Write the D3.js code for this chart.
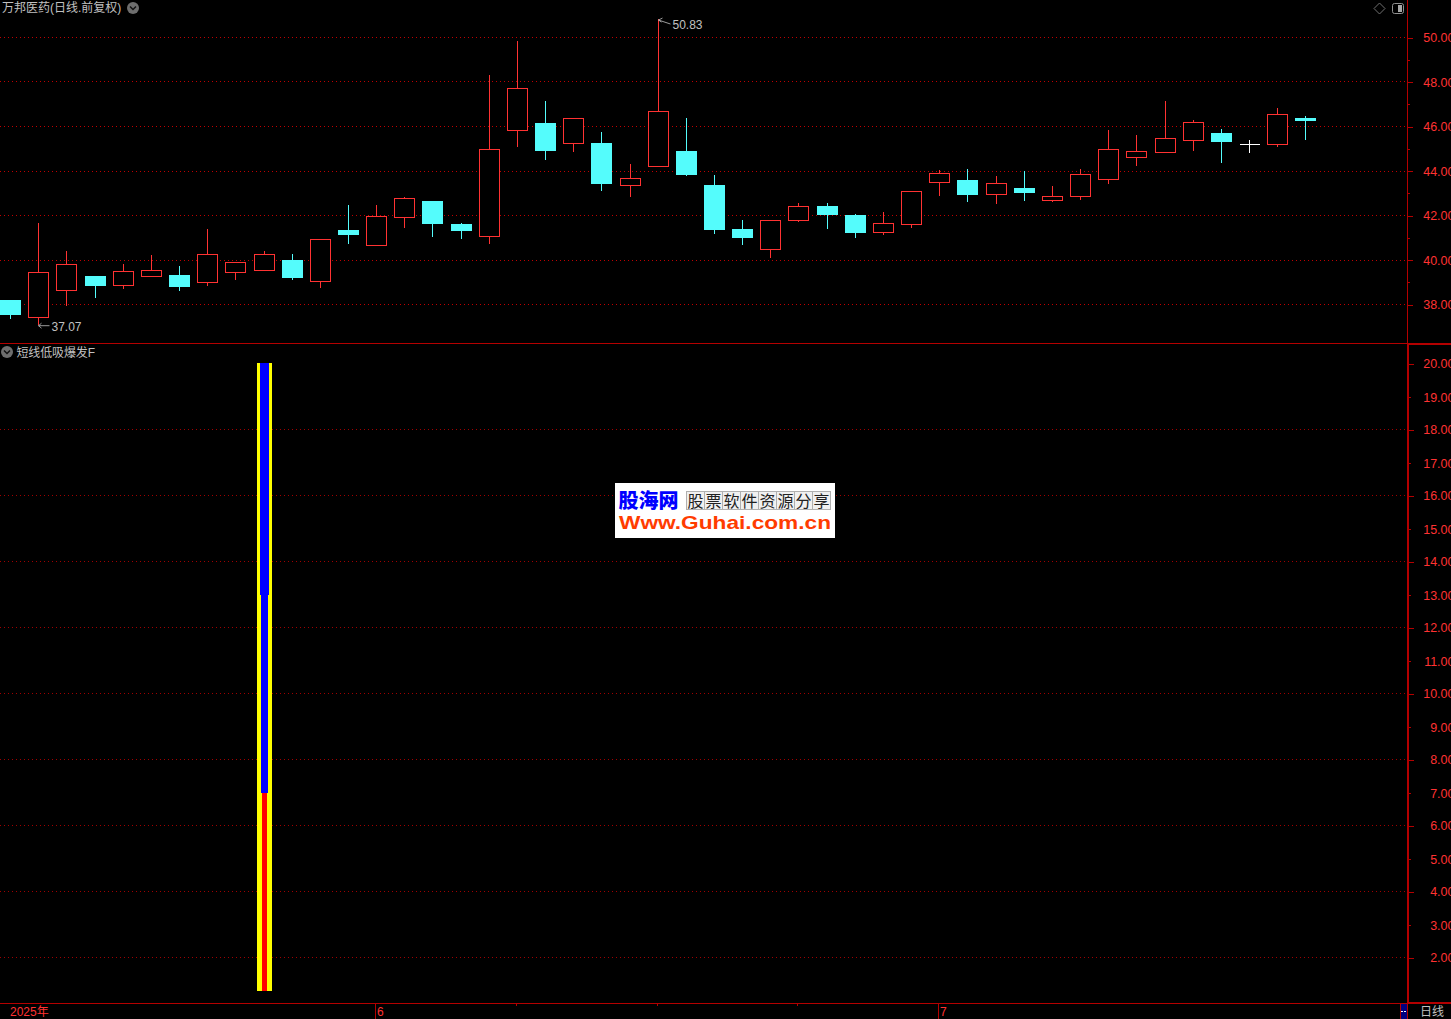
<!DOCTYPE html>
<html><head><meta charset="utf-8">
<style>html,body{margin:0;padding:0;background:#000;overflow:hidden}svg{display:block}text{font-family:"Liberation Sans","Noto Sans CJK SC",sans-serif}</style>
<script src="https://cdn.jsdelivr.net/npm/d3@7/dist/d3.min.js"></script>
</head><body><svg id="c" width="1451" height="1019"></svg>
<script>
const dates=["05-14","05-15","05-16","05-19","05-20","05-21","05-22","05-23","05-26","05-27","05-28","05-29","05-30",
"06-03","06-04","06-05","06-06","06-09","06-10","06-11","06-12","06-13","06-16","06-17","06-18","06-19","06-20","06-23","06-24","06-25","06-26","06-27","06-30",
"07-01","07-02","07-03","07-04","07-07","07-08","07-09","07-10","07-11","07-14","07-15","07-16","07-17","07-18"];
const opens=[38.19,37.41,38.62,39.27,38.85,39.25,39.32,38.98,39.43,39.52,39.99,39.03,41.34,
40.64,41.90,42.64,41.61,41.05,45.83,46.15,45.23,45.25,43.34,44.19,44.89,43.36,41.39,40.46,41.77,42.42,42.01,41.23,41.59,
43.48,43.59,42.935,43.23,42.67,42.85,43.61,44.60,44.82,45.38,45.70,45.18,45.18,46.37];
const closes=[37.49,39.43,39.79,38.83,39.475,39.52,38.78,40.24,39.88,40.24,39.18,40.91,41.12,
41.95,42.75,41.61,41.30,44.96,47.70,44.89,46.35,43.41,43.65,46.67,43.81,41.34,40.98,41.77,42.40,42.01,41.21,41.63,43.07,
43.88,42.91,43.43,43.00,42.85,43.83,44.96,44.87,45.45,46.17,45.29,45.18,46.53,46.24];
const highs=[38.19,41.65,40.40,39.27,39.81,40.22,39.72,41.385,39.88,40.40,40.26,40.91,42.46,
42.46,42.82,42.64,41.65,48.30,49.83,47.14,46.35,45.74,44.31,50.83,46.37,43.81,41.79,41.82,42.55,42.55,42.06,42.15,43.07,
44.04,44.08,43.77,43.99,43.32,44.08,45.83,45.61,47.14,46.28,45.87,45.38,46.82,46.46];
const lows=[37.34,37.07,37.94,38.30,38.70,39.25,38.60,38.84,39.11,39.52,39.09,38.73,40.71,
40.64,41.43,41.03,40.93,40.71,45.07,44.49,44.85,43.09,42.82,44.19,43.77,41.16,40.67,40.08,41.70,41.39,40.98,41.12,41.43,
42.87,42.60,42.51,42.64,42.60,42.69,43.41,44.22,44.82,44.89,44.35,44.80,45.07,45.38];
const priceMajor=[50,48,46,44,42,40,38];
const priceMinor=[49,47,45,43,41,39];
const indLabels=[20,19,18,17,16,15,14,13,12,11,10,9,8,7,6,5,4,3,2];
const indGrid=[18,16,14,12,10,8,6,4,2];
const signalDate="05-27";
const signalOuter=[1,20];
const signalMid=[7,20];
const signalTop=[13,20];
const signalBase=[1,7];
const monthTicks=[{d:"06-03",t:"6"},{d:"07-01",t:"7"}];
const minorDateTicks=["06-10","06-17","06-24"];

const RED="#ff3232",CY="#54fcfc",DK="#b40000",GRID="#c00000",GR="#c0c0c0";
const svg=d3.select("#c");
const xPos=d3.scaleLinear().domain([0,46]).range([10.62,1305.8]);
const xi=i=>Math.floor(xPos(i))+0.5;
const y=d3.scaleLinear().domain([38,50]).range([304.5,37.5]);
const y2=d3.scaleLinear().domain([2,20]).range([957.5,363.5]);
const yBar=d3.scaleLinear().domain([1,20]).range([991,363.3]);
const snap=v=>Math.round(v-0.5)+0.5;

const crisp=svg.append("g").attr("shape-rendering","crispEdges");
crisp.append("g").selectAll("line").data(priceMajor).join("line").attr("x1",0).attr("x2",1407)
 .attr("y1",d=>snap(y(d))).attr("y2",d=>snap(y(d))).attr("stroke",GRID).attr("stroke-dasharray","1 3");
crisp.append("g").selectAll("line").data(indGrid).join("line").attr("x1",0).attr("x2",1407)
 .attr("y1",d=>snap(y2(d))).attr("y2",d=>snap(y2(d))).attr("stroke","#a00000").attr("stroke-dasharray","1 3");

const idx=d3.range(dates.length);
const g=crisp.append("g");
idx.forEach(i=>{
 const o=opens[i],c=closes[i],h=highs[i],l=lows[i],x=xi(i);
 const up=c>o,flat=c===o;
 const col=flat?"#fff":up?RED:CY;
 const t=snap(y(Math.max(o,c))),b=snap(y(Math.min(o,c)));
 g.append("line").attr("x1",x).attr("x2",x).attr("y1",y(h)).attr("y2",y(l)).attr("stroke",col);
 if(flat){g.append("line").attr("x1",x-10).attr("x2",x+10).attr("y1",t).attr("y2",t).attr("stroke",col);}
 else if(up){g.append("rect").attr("x",x-10).attr("width",20).attr("y",t).attr("height",b-t).attr("fill","#000").attr("stroke",col);}
 else{g.append("rect").attr("x",x-10.5).attr("width",21).attr("y",t-.5).attr("height",b-t).attr("fill",col);}
});

const sx=xi(dates.indexOf(signalDate));
const bar=crisp.append("g");
const seg=(r,hl,hr,col)=>{const t=Math.round(yBar(r[1])),b=Math.round(yBar(r[0]));
 bar.append("rect").attr("x",sx+hl).attr("width",hr-hl).attr("y",t).attr("height",b-t).attr("fill",col);};
seg(signalOuter,-7.5,7.5,"#ffff00");
seg(signalMid,-3.5,3.5,"#0000ff");
seg(signalTop,-4.5,4.5,"#0000ff");
seg(signalBase,-2.5,2.5,"#ff0000");

crisp.append("line").attr("x1",0).attr("x2",1451).attr("y1",343.5).attr("y2",343.5).attr("stroke",DK);
crisp.append("line").attr("x1",1407.5).attr("x2",1407.5).attr("y1",0).attr("y2",343).attr("stroke",DK);
crisp.append("rect").attr("x",1407).attr("y",343).attr("width",2).attr("height",660).attr("fill",DK);
crisp.append("rect").attr("x",1407).attr("y",343).attr("width",44).attr("height",2).attr("fill",DK);
crisp.append("line").attr("x1",0).attr("x2",1407).attr("y1",1003.5).attr("y2",1003.5).attr("stroke",DK);
crisp.append("rect").attr("x",1407).attr("y",1002).attr("width",44).attr("height",2).attr("fill",DK);
crisp.append("rect").attr("x",1400).attr("y",1004).attr("width",8).attr("height",15).attr("fill","#000080");
crisp.append("line").attr("x1",1400.5).attr("x2",1400.5).attr("y1",1004).attr("y2",1019).attr("stroke",DK);
crisp.append("line").attr("x1",1407.5).attr("x2",1407.5).attr("y1",1004).attr("y2",1019).attr("stroke",DK);
crisp.append("line").attr("x1",1401).attr("x2",1407).attr("y1",1011.5).attr("y2",1011.5).attr("stroke","#fff").attr("stroke-dasharray","2 1");

function styleLabels(ga){
 ga.selectAll("text").attr("fill",RED).attr("font-size",12.5).attr("text-anchor","end").attr("x",46.5)
   .style("font-family","'Liberation Sans',sans-serif");
}
const ga=svg.append("g").attr("transform","translate(1408,0)").call(d3.axisRight(y).tickValues(priceMajor).tickSize(5).tickFormat(d3.format(".2f")));
ga.select(".domain").remove();
ga.selectAll(".tick line").attr("stroke",DK).attr("shape-rendering","crispEdges");
styleLabels(ga);
const gb=svg.append("g").attr("transform","translate(1408,0)").call(d3.axisRight(y).tickValues(priceMinor).tickSize(2).tickFormat(""));
gb.select(".domain").remove();
gb.selectAll(".tick line").attr("stroke",DK).attr("shape-rendering","crispEdges");
const ga2=svg.append("g").attr("transform","translate(1408,0)").call(d3.axisRight(y2).tickValues(indLabels).tickSize(5).tickFormat(d3.format(".2f")));
ga2.select(".domain").remove();
ga2.selectAll(".tick line").attr("stroke",DK).attr("shape-rendering","crispEdges").attr("x2",d=>d%2?3:6);
styleLabels(ga2);
ga2.selectAll("text").attr("dy",d=>d%2?"1.32em":"0.32em").attr("dy",d=>d%2?"0.4em":"0.32em");

monthTicks.forEach(m=>{
 const x=xi(dates.indexOf(m.d));
 crisp.append("line").attr("x1",x-1).attr("x2",x-1).attr("y1",1003).attr("y2",1019).attr("stroke",DK);
 svg.append("text").attr("x",x+.5).attr("y",1016).attr("fill",RED).attr("font-size",12).text(m.t);
});
minorDateTicks.forEach(d=>{
 const x=xi(dates.indexOf(d));
 crisp.append("line").attr("x1",x-1).attr("x2",x-1).attr("y1",1003).attr("y2",1006).attr("stroke",DK);
});
svg.append("text").attr("x",10).attr("y",1016).attr("fill",RED).attr("font-size",12).text("2025年");
svg.append("text").attr("x",1420).attr("y",1016).attr("fill",GR).attr("font-size",12).text("日线");

svg.append("text").attr("x",2).attr("y",12).attr("fill",GR).attr("font-size",12).text("万邦医药(日线.前复权)");
svg.append("text").attr("x",16.5).attr("y",357).attr("fill",GR).attr("font-size",12).attr("textLength",78.5).text("短线低吸爆发F");
function chev(cx,cy){
 svg.append("circle").attr("cx",cx).attr("cy",cy).attr("r",6).attr("fill","#6e6e6e");
 svg.append("path").attr("d",`M${cx-3},${cy-1.5}L${cx},${cy+1.5}L${cx+3},${cy-1.5}`).attr("fill","none").attr("stroke","#111").attr("stroke-width",1.5);
}
chev(133,8);chev(7,352);
svg.append("path").attr("d","M1379.5,3L1385,8.5L1379.5,14L1374,8.5Z").attr("fill","none").attr("stroke","#707070");
svg.append("rect").attr("x",1392.5).attr("y",3.5).attr("width",11).attr("height",10).attr("rx",2).attr("fill","#000").attr("stroke","#909090");
svg.append("rect").attr("x",1398).attr("y",5).attr("width",4).attr("height",7).attr("fill","#a8a8a8");

const iMax=highs.indexOf(d3.max(highs)),iMin=lows.indexOf(d3.min(lows));
const mx=xi(iMax),my=y(highs[iMax]),nx=xi(iMin),ny=y(lows[iMin]);
svg.append("path").attr("d",`M${mx+4},${my-1}L${mx},${my+1}L${mx+12},${my+5}M${mx},${my+1}L${mx+3},${my+3}`).attr("fill","none").attr("stroke",GR).attr("stroke-width",.8);
svg.append("text").attr("x",mx+14).attr("y",my+10).attr("fill",GR).attr("font-size",12).text(d3.format(".2f")(highs[iMax]));
svg.append("path").attr("d",`M${nx+11},${ny+.5}L${nx},${ny+.5}M${nx+3},${ny-2}L${nx},${ny+.5}L${nx+3},${ny+3}`).attr("fill","none").attr("stroke",GR).attr("stroke-width",.8);
svg.append("text").attr("x",nx+13).attr("y",ny+5.5).attr("fill",GR).attr("font-size",12).text(d3.format(".2f")(lows[iMin]));

const wmChars=["股","票","软","件","资","源","分","享"];
const wm=svg.append("g");
wm.append("rect").attr("x",615).attr("y",483).attr("width",220).attr("height",55).attr("fill","#fff");
wm.append("text").attr("x",618.5).attr("y",507.5).attr("fill","#0000ff").attr("font-size",20).attr("font-weight",900).style("font-family","'Noto Sans CJK SC'").text("股海网");
wmChars.forEach((ch,i)=>{
 const cell=686+i*18;
 wm.append("rect").attr("x",cell+.5).attr("y",491.5).attr("width",18).attr("height",18).attr("fill","#f0f0f0").attr("stroke","#b0b0b0").attr("shape-rendering","crispEdges");
 wm.append("text").attr("x",cell+9.5).attr("y",506.5).attr("text-anchor","middle").attr("fill","#222").attr("font-size",16).style("font-family","'Noto Sans CJK SC'").text(ch);
});
wm.append("text").attr("x",619).attr("y",529).attr("fill","#ff3c00").attr("font-size",19).attr("font-weight",700)
 .attr("textLength",212).attr("lengthAdjust","spacingAndGlyphs").style("font-family","'Liberation Sans'").text("Www.Guhai.com.cn");
</script></body></html>
